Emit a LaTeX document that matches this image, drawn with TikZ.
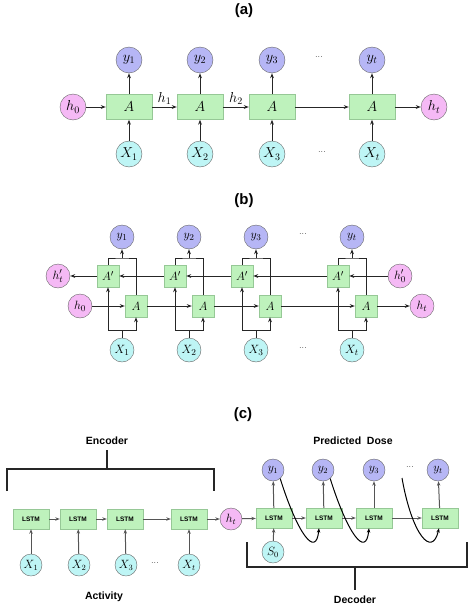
\documentclass[tikz,border=0pt]{standalone}
\usepackage{fontspec}
\newfontfamily\hv{Liberation Sans}
\usetikzlibrary{arrows.meta,calc}
\definecolor{boxg}{RGB}{190,242,188}
\definecolor{boxgd}{RGB}{150,200,150}
\definecolor{ypur}{RGB}{182,182,245}
\definecolor{hpink}{RGB}{245,185,245}
\definecolor{xcyan}{RGB}{190,245,245}
\definecolor{cgrey}{RGB}{85,85,85}
\begin{document}
\begin{tikzpicture}[x=1pt,y=-1pt,
  arr/.style={-{Stealth[length=5pt,width=3.8pt]},line width=1pt,draw=black!85},
  ln/.style={line width=1pt,draw=black!85},
  boxa/.style={draw=boxgd,fill=boxg,minimum width=46pt,minimum height=25pt,inner sep=0pt,font=\fontsize{15}{17}\selectfont},
  boxb/.style={draw=boxgd,fill=boxg,minimum width=22pt,minimum height=22pt,inner sep=0pt,font=\fontsize{12.5}{14}\selectfont},
  boxc/.style={draw=boxgd,fill=boxg,minimum width=36pt,minimum height=20pt,inner sep=0pt,font=\hv\bfseries\fontsize{6.5}{8}\selectfont},
  circ/.style={circle,draw=black!60,inner sep=0pt,minimum size=#1},
  yc/.style={circ=#1,fill=ypur},
  hc/.style={circ=#1,fill=hpink},
  xc/.style={circ=#1,fill=xcyan},
  ttl/.style={font=\hv\bfseries\fontsize{15}{17}\selectfont},
  lbl/.style={font=\hv\bfseries\fontsize{10.5}{12}\selectfont},
  dots/.style={font=\fontsize{9}{10}\selectfont},
  fa/.style={font=\fontsize{14}{16}\selectfont},
  fb/.style={font=\fontsize{12.5}{14}\selectfont},
  fc/.style={font=\fontsize{12}{14}\selectfont},
  carr/.style={-{Stealth[length=4.5pt,width=3.4pt]},line width=1pt,draw=cgrey},
  brk/.style={line width=1.3pt,draw=black!85}
]
\useasboundingbox (0,0) rectangle (474,613);
% ---------------- (a) ----------------
\node[ttl] (ta) at (244,11) {(a)};
\foreach \i/\x in {1/129,2/200,3/272} {
  \node[boxa] (aa\i) at (\x,107) {$A$};
  \node[yc=26pt,fa] (ya\i) at (\x,60) {$y_\i$};
  \node[xc=26pt,fa] (xa\i) at (\x,154) {$X_\i$};
}
\node[boxa] (aa4) at (372,107) {$A$};
\node[yc=26pt,fa] (ya4) at (372,60) {$y_t$};
\node[xc=26pt,fa] (xa4) at (372,154) {$X_t$};
\node[hc=26pt,fa] (ha0) at (73,107) {$h_0$};
\node[hc=26pt,fa] (hat) at (434,107) {$h_t$};
\node[dots] (da1) at (319,57) {...};
\node[dots] (da2) at (322,152) {...};
\foreach \i in {1,2,3,4} {
  \draw[arr] (aa\i) -- (ya\i);
  \draw[arr] (xa\i) -- (aa\i);
}
\draw[arr] (ha0) -- (aa1);
\draw[arr] (aa1) -- node[above,fa,inner sep=2pt] (lh1) {$h_1$} (aa2);
\draw[arr] (aa2) -- node[above,fa,inner sep=2pt] (lh2) {$h_2$} (aa3);
\draw[arr] (aa3) -- (aa4);
\draw[arr] (aa4) -- (hat);
% ---------------- (b) ----------------
\node[ttl] (tb) at (244,201) {(b)};
\foreach \i/\x in {1/122,2/189,3/256,4/352} {
  \node[boxb] (bp\i) at (\x-14,276) {$A'$};
  \node[boxb] (ba\i) at (\x+14,306) {$A$};
  \coordinate (tj\i) at (\x,258);
  \coordinate (bj\i) at (\x,330);
}
\foreach \i/\x in {1/122,2/189,3/256} {
  \node[yc=24pt,fb] (yb\i) at (\x,237) {$y_\i$};
  \node[xc=24pt,fb] (xb\i) at (\x,350) {$X_\i$};
}
\node[yc=24pt,fb] (yb4) at (352,237) {$y_t$};
\node[xc=24pt,fb] (xb4) at (352,350) {$X_t$};
\node[hc=24pt,fb] (hbt) at (58,276) {$h'_t$};
\node[hc=24pt,fb] (hb0p) at (400,276) {$h'_0$};
\node[hc=24pt,fb] (hb0) at (80,306) {$h_0$};
\node[hc=24pt,fb] (hbtt) at (422,306) {$h_t$};
\node[dots] (db1) at (303,234) {...};
\node[dots] (db2) at (303,348) {...};
\foreach \i in {1,2,3,4} {
  \draw[ln] (bp\i.north) |- (tj\i) -| (ba\i.north);
  \draw[arr] (tj\i) -- (yb\i);
  \draw[ln] (xb\i) -- (bj\i);
  \draw[arr] (bj\i) -| (bp\i.south);
  \draw[arr] (bj\i) -| (ba\i.south);
}
\draw[arr] (hb0) -- (ba1);
\draw[arr] (ba1) -- (ba2);
\draw[arr] (ba2) -- (ba3);
\draw[arr] (ba3) -- (ba4);
\draw[arr] (ba4) -- (hbtt);
\draw[arr] (hb0p) -- (bp4);
\draw[arr] (bp4) -- (bp3);
\draw[arr] (bp3) -- (bp2);
\draw[arr] (bp2) -- (bp1);
\draw[arr] (bp1) -- (hbt);
% ---------------- (c) ----------------
\node[ttl] (tc) at (243,415) {(c)};
\node[lbl] (enc) at (107,441) {Encoder};
\node[lbl] (act) at (104,597) {Activity};
\node[lbl] (pd) at (353,441) {Predicted\ \ Dose};
\node[lbl] (dec) at (355,600) {Decoder};
\coordinate (e1) at (7,491); \coordinate (e2) at (7,469);
\coordinate (e3) at (214,469); \coordinate (e4) at (214,491);
\coordinate (e5) at (107,469); \coordinate (e6) at (107,450);
\draw[brk] (e1) -- (e2) -- (e3) -- (e4);
\draw[brk] (e5) -- (e6);
\coordinate (d1) at (247,542); \coordinate (d2) at (247,567);
\coordinate (d3) at (467,567); \coordinate (d4) at (467,542);
\coordinate (d5) at (355,567); \coordinate (d6) at (355,590);
\draw[brk] (d1) -- (d2) -- (d3) -- (d4);
\draw[brk] (d5) -- (d6);
% encoder
\foreach \i/\x in {1/31,2/78,3/125,4/189} {
  \node[boxc] (le\i) at (\x,519) {LSTM};
}
\foreach \i/\x in {1/31,2/79,3/126} {
  \node[xc=22pt,fc] (xc\i) at (\x,565) {$X_\i$};
}
\node[xc=22pt,fc] (xc4) at (189,565) {$X_t$};
\node[dots] (dc1) at (155,563) {...};
\node[hc=22pt,fc] (hct) at (231,519) {$h_t$};
\foreach \i in {1,2,3,4} { \draw[carr] (xc\i) -- (le\i); }
\draw[carr] (le1) -- (le2);
\draw[carr] (le2) -- (le3);
\draw[carr] (le3) -- (le4);
\draw[carr] (le4) -- (hct);
% decoder
\foreach \i/\x in {1/274,2/324,3/374,4/440} {
  \node[boxc] (ld\i) at (\x,518) {LSTM};
}
\foreach \i/\x in {1/273,2/323,3/374} {
  \node[yc=22pt,fc] (yd\i) at (\x,470) {$y_\i$};
}
\node[yc=22pt,fc] (yd4) at (438,470) {$y_t$};
\node[dots] (dc2) at (410,467) {...};
\node[xc=22pt,fc] (s0) at (273,552) {$S_0$};
\draw[carr] (hct) -- (ld1);
\draw[carr] (ld1) -- (ld2);
\draw[carr] (ld2) -- (ld3);
\draw[carr] (ld3) -- (ld4);
\foreach \i in {1,2,3,4} { \draw[carr] (ld\i) -- (yd\i); }
\draw[carr] (s0) -- (ld1);
\coordinate (cs3) at (402,478);
\draw[-{Stealth[length=4.5pt,width=3.4pt]},line width=1pt] (yd1.-50) .. controls (298,535) and (316,558) .. ($(ld2.south)+(-5,0)$);
\draw[-{Stealth[length=4.5pt,width=3.4pt]},line width=1pt] (yd2.-50) .. controls (348,535) and (366,558) .. ($(ld3.south)+(-5,0)$);
\draw[-{Stealth[length=4.5pt,width=3.4pt]},line width=1pt] (cs3) .. controls (412,535) and (432,558) .. ($(ld4.south)+(-1,0)$);
\end{tikzpicture}
\end{document}
